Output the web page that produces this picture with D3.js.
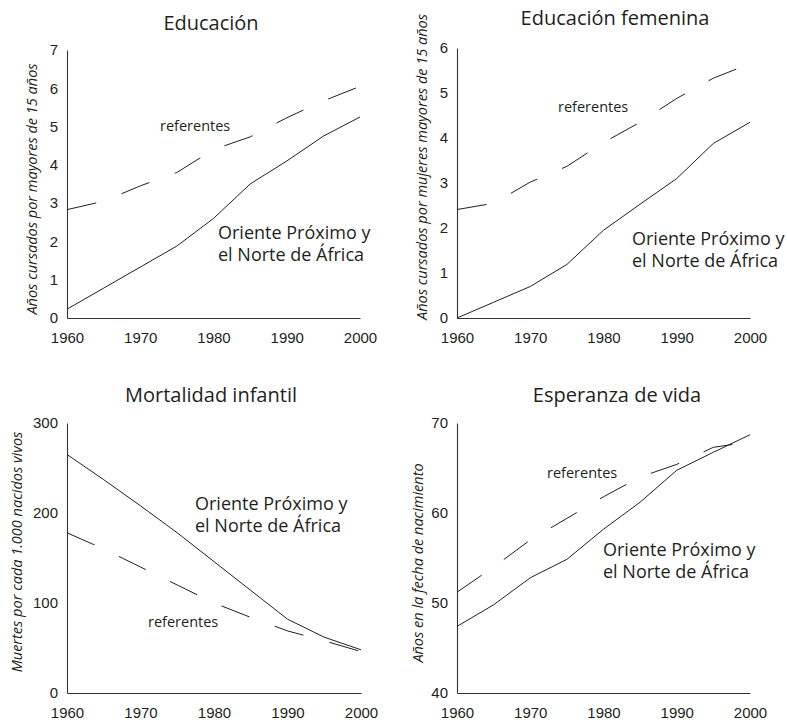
<!DOCTYPE html>
<html>
<head>
<meta charset="utf-8">
<script src="https://cdn.jsdelivr.net/npm/d3@7"></script>
<style>
  body { margin: 0; background: #fff; }
  svg { font-family: 'Open Sans', sans-serif; }
  .tick-label { font-size: 15px; fill: #231f20; }
  .axis-title { font-size: 14.5px; font-style: italic; fill: #231f20; }
  .panel-title { font-size: 20px; fill: #231f20; }
  .note { font-size: 18px; fill: #231f20; }
  .ref-note { font-size: 14.5px; fill: #231f20; }
</style>
</head>
<body>
<div id="chart"></div>
<script>
const years = [1960, 1965, 1970, 1975, 1980, 1985, 1990, 1995, 2000];
const xTicks = [1960, 1970, 1980, 1990, 2000];

// Educación
const eduRegion = [0.23, 0.78, 1.33, 1.88, 2.6, 3.5, 4.1, 4.75, 5.25];
const eduRef = [2.83, 3.05, 3.45, 3.8, 4.4, 4.73, 5.23, 5.67, 6.05];
const eduTicks = [0, 1, 2, 3, 4, 5, 6, 7];

// Educación femenina
const femRegion = [0, 0.35, 0.7, 1.19, 1.95, 2.53, 3.1, 3.88, 4.35];
const femRef = [2.41, 2.55, 3.02, 3.37, 3.9, 4.35, 4.88, 5.33, 5.65];
const femTicks = [0, 1, 2, 3, 4, 5, 6];

// Mortalidad infantil
const mortRegion = [265, 237, 208, 178, 146, 114, 82, 62, 48];
const mortRef = [178, 160, 140, 120, 100, 84, 69, 58, 46];
const mortTicks = [0, 100, 200, 300];

// Esperanza de vida
const lifeRegion = [47.4, 49.8, 52.8, 54.85, 58.2, 61.2, 64.75, 66.75, 68.7];
const lifeRef = [51.2, 54.0, 57.0, 59.4, 61.8, 64.0, 65.4, 67.3, 67.9];
const lifeTicks = [40, 50, 60, 70];

const regionName = ['Oriente Próximo y', 'el Norte de África'];

const panels = [
  {
    title: 'Educación', yTitle: 'Años cursados por mayores de 15 años',
    region: eduRegion, ref: eduRef, ticks: eduTicks,
    x0: 67, x1: 360, yTop: 50, yBottom: 318,
    titlePos: [211, 30], yTitlePos: [32, 189],
    notePos: [218, 239], refPos: [160, 131],
  },
  {
    title: 'Educación femenina', yTitle: 'Años cursados por mujeres mayores de 15 años',
    region: femRegion, ref: femRef, ticks: femTicks,
    x0: 457, x1: 750, yTop: 48, yBottom: 318,
    titlePos: [615, 25], yTitlePos: [422, 167],
    notePos: [632, 245], refPos: [558, 112],
  },
  {
    title: 'Mortalidad infantil', yTitle: 'Muertes por cada 1.000 nacidos vivos',
    region: mortRegion, ref: mortRef, ticks: mortTicks,
    x0: 67, x1: 361, yTop: 423, yBottom: 693,
    titlePos: [211, 402], yTitlePos: [17, 552],
    notePos: [195, 510], refPos: [148, 627],
  },
  {
    title: 'Esperanza de vida', yTitle: 'Años en la fecha de nacimiento',
    region: lifeRegion, ref: lifeRef, ticks: lifeTicks,
    x0: 457, x1: 750, yTop: 423, yBottom: 693,
    titlePos: [617, 402], yTitlePos: [418, 563],
    notePos: [603, 556], refPos: [547, 478],
  },
];

const svg = d3
  .select('#chart')
  .append('svg')
  .attr('width', 787)
  .attr('height', 722);

svg.append('rect').attr('width', 787).attr('height', 722).attr('fill', '#fff');

const drawPanel = (p) => {
  const g = svg.append('g');
  const ticks = p.ticks;

  const xScale = d3.scaleLinear().domain([1960, 2000]).range([p.x0, p.x1]);
  const yScale = d3
    .scaleLinear()
    .domain([ticks[0], ticks[ticks.length - 1]])
    .range([p.yBottom, p.yTop]);

  // x axis
  g.append('g')
    .attr('transform', `translate(0, ${p.yBottom})`)
    .call(d3.axisBottom(xScale).tickValues(xTicks).tickFormat(d3.format('d')).tickSize(0).tickPadding(14))
    .call((a) => a.select('.domain').attr('stroke', '#333').attr('stroke-width', 1.1))
    .call((a) => a.selectAll('text').attr('class', 'tick-label'));

  // y axis
  g.append('g')
    .attr('transform', `translate(${p.x0}, 0)`)
    .call(d3.axisLeft(yScale).tickValues(ticks).tickFormat(d3.format('d')).tickSize(0).tickPadding(9))
    .call((a) => a.select('.domain').attr('stroke', '#333').attr('stroke-width', 1.1))
    .call((a) => a.selectAll('text').attr('class', 'tick-label'));

  const line = d3
    .line()
    .x((d, i) => xScale(years[i]))
    .y((d) => yScale(d));

  // referentes (dashed)
  g.append('path')
    .datum(p.ref)
    .attr('d', line)
    .attr('fill', 'none')
    .attr('stroke', '#231f20')
    .attr('stroke-width', 1)
    .attr('stroke-dasharray', '30,27');

  // region (solid)
  g.append('path')
    .datum(p.region)
    .attr('d', line)
    .attr('fill', 'none')
    .attr('stroke', '#231f20')
    .attr('stroke-width', 1);

  // titles
  g.append('text')
    .attr('class', 'panel-title')
    .attr('text-anchor', 'middle')
    .attr('x', p.titlePos[0])
    .attr('y', p.titlePos[1])
    .text(p.title);

  g.append('text')
    .attr('class', 'axis-title')
    .attr('text-anchor', 'middle')
    .attr('transform', `translate(${p.yTitlePos[0] + 5}, ${p.yTitlePos[1]}) rotate(-90)`)
    .text(p.yTitle);

  // region label, one text per line
  regionName.forEach((t, i) => {
    g.append('text')
      .attr('class', 'note')
      .attr('x', p.notePos[0])
      .attr('y', p.notePos[1] + i * 22)
      .text(t);
  });

  g.append('text')
    .attr('class', 'ref-note')
    .attr('x', p.refPos[0])
    .attr('y', p.refPos[1])
    .text('referentes');
};

panels.forEach(drawPanel);
</script>
</body>
</html>
